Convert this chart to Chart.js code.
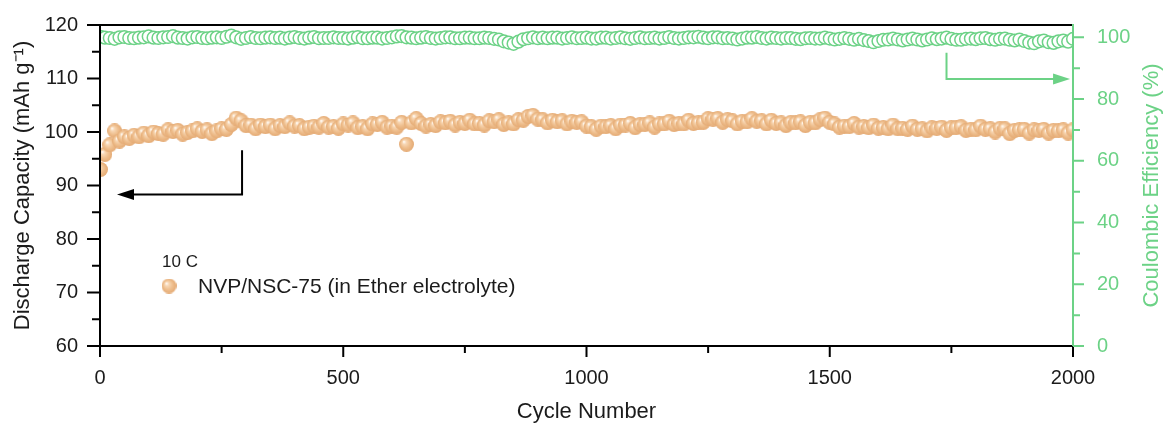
<!DOCTYPE html>
<html>
<head>
<meta charset="utf-8">
<script src="https://cdn.jsdelivr.net/npm/chart.js@4"></script>
<style>
  html, body { margin: 0; padding: 0; background: #fff; }
  #wrap { width: 1168px; height: 432px; }
</style>
</head>
<body>
<div id="wrap"><canvas id="cycleChart" width="1168" height="432"></canvas></div>
<script>
// discharge capacity (mAh g-1), one point every 10 cycles (first point = cycle 1)
const capacity = [
  93.0, 95.8, 97.6, 100.2, 98.3, 99.1, 98.8, 99.4, 99.1, 99.8,
  99.3, 100.0, 99.7, 99.6, 100.4, 100.1, 100.3, 99.6, 99.9, 100.2,
  100.6, 100.1, 100.4, 99.7, 100.2, 100.6, 100.5, 101.4, 102.6, 102.1,
  101.2, 101.3, 100.6, 101.3, 101.0, 101.3, 100.6, 101.2, 101.0, 101.7,
  101.1, 101.2, 100.6, 100.9, 101.1, 100.9, 101.6, 100.9, 101.0, 100.7,
  101.5, 101.3, 101.7, 100.8, 101.0, 100.6, 101.5, 101.4, 101.8, 100.9,
  101.1, 100.9, 101.8, 97.7, 101.7, 102.5, 101.6, 101.1, 101.4, 101.2,
  101.9, 101.7, 102.0, 101.3, 101.8, 101.6, 102.2, 101.5, 101.6, 101.3,
  102.1, 101.9, 102.3, 101.4, 101.7, 101.5, 102.3, 102.2, 102.9, 103.1,
  102.4, 102.3, 101.7, 102.2, 101.9, 102.1, 101.5, 102.0, 101.8, 101.9,
  101.1, 101.0, 100.5, 101.1, 101.0, 101.2, 100.6, 101.3, 101.3, 101.6,
  100.8, 101.4, 101.4, 101.7, 100.9, 101.5, 101.5, 102.0, 101.4, 101.6,
  101.5, 102.2, 101.6, 101.7, 101.8, 102.5, 102.4, 102.5, 101.8, 102.3,
  102.1, 101.5, 102.0, 101.9, 102.5, 102.0, 102.1, 101.5, 102.2, 101.6,
  101.7, 101.2, 101.8, 101.7, 101.9, 101.2, 101.8, 101.7, 102.3, 102.6,
  101.8, 101.5, 100.9, 101.1, 101.0, 101.6, 100.9, 101.0, 100.8, 101.3,
  100.7, 100.8, 100.6, 101.3, 100.6, 100.7, 100.5, 101.1, 100.5, 100.6,
  100.2, 100.8, 100.7, 100.9, 100.3, 100.8, 100.8, 101.0, 100.3, 100.5,
  100.4, 101.1, 100.5, 100.6, 100.0, 100.7, 100.6, 99.7, 100.3, 100.4,
  100.5, 99.8, 100.4, 100.3, 100.5, 99.8, 100.3, 100.2, 100.4, 99.8,
  100.4
];

// coulombic efficiency (%)
const efficiency = [
  100.2, 99.9, 99.8, 99.5, 100.0, 100.1, 99.8, 99.7, 99.9, 100.0,
  100.3, 99.9, 99.8, 100.0, 100.1, 100.4, 99.9, 99.8, 99.6, 100.0,
  100.1, 99.8, 99.7, 99.9, 100.0, 99.8, 100.2, 100.6, 100.0, 99.5,
  99.8, 100.1, 99.8, 99.7, 99.9, 100.0, 99.8, 99.9, 99.6, 99.9,
  100.1, 99.8, 99.6, 99.9, 100.1, 99.7, 99.8, 99.8, 100.0, 99.8,
  99.8, 99.6, 99.9, 100.1, 99.7, 99.7, 99.9, 99.9, 99.6, 99.8,
  100.0, 100.3, 100.4, 100.0, 99.9, 99.7, 99.9, 100.1, 99.8, 99.6,
  99.8, 100.0, 100.0, 99.7, 99.7, 99.9, 99.9, 99.7, 99.7, 99.9,
  99.8, 99.5, 99.3, 98.7, 98.3, 97.9, 98.6, 99.4, 99.7, 100.0,
  99.7, 99.9, 99.7, 99.9, 99.9, 99.6, 99.8, 100.0, 99.7, 99.8,
  99.9, 99.6, 99.6, 99.9, 99.9, 99.6, 99.8, 100.0, 99.7, 99.5,
  99.8, 100.0, 99.7, 99.8, 99.9, 99.6, 99.8, 100.1, 99.8, 99.6,
  99.8, 100.0, 100.0, 100.2, 99.9, 99.7, 100.0, 100.0, 99.7, 99.8,
  99.6, 99.3, 99.6, 99.9, 99.9, 100.1, 99.8, 99.6, 99.9, 99.8,
  99.6, 99.8, 99.8, 99.5, 99.4, 99.7, 99.8, 99.6, 99.6, 99.9,
  99.6, 99.3, 99.5, 99.8, 99.5, 99.2, 99.5, 99.1, 98.8, 98.4,
  98.8, 99.2, 99.3, 99.6, 99.3, 99.0, 99.3, 99.6, 99.3, 99.0,
  99.3, 99.7, 99.4, 99.6, 99.9, 99.5, 99.2, 99.2, 99.5, 99.6,
  99.4, 99.7, 99.8, 99.4, 99.2, 99.5, 99.6, 99.2, 99.0, 99.3,
  98.8, 98.3, 98.1, 98.7, 99.0, 98.4, 98.2, 98.7, 99.0, 98.6,
  99.5
];

const cycles = capacity.map((v, i) => (i === 0 ? 1 : i * 10));

const xTicks = [0, 500, 1000, 1500, 2000];
const xMinor = [250, 750, 1250, 1750];
const capTicks = [60, 70, 80, 90, 100, 110, 120];
const capMinor = [65, 75, 85, 95, 105, 115];
const ceTicks = [0, 20, 40, 60, 80, 100];
const ceMinor = [10, 30, 50, 70, 90];

const FONT = '"Liberation Sans", Arial, sans-serif';
const GREEN = 'rgb(108, 210, 134)';
const INK = '#1b1b1b';

// shaded orange ball used as the capacity marker
function makeBall(r) {
	const c = document.createElement('canvas');
	c.width = c.height = Math.ceil(r * 2);
	const g = c.getContext('2d');
	const grad = g.createRadialGradient(r - r * 0.35, r - r * 0.35, 0.4, r, r, r);
	grad.addColorStop(0, '#fffaf4');
	grad.addColorStop(0.22, '#f8d8b6');
	grad.addColorStop(0.6, '#efbf8e');
	grad.addColorStop(1, '#e4aa74');
	g.fillStyle = grad;
	g.beginPath();
	g.arc(r, r, r, 0, Math.PI * 2);
	g.fill();
	return c;
}
const ball = makeBall(7.5);

function arrowHead(ctx, tipX, tipY, dir) {
	// dir: -1 points left, 1 points right
	ctx.beginPath();
	ctx.moveTo(tipX, tipY);
	ctx.lineTo(tipX - dir * 17, tipY - 5.5);
	ctx.lineTo(tipX - dir * 17, tipY + 5.5);
	ctx.closePath();
	ctx.fill();
}

const frameAndMarks = {
	id: 'frameAndMarks',
	afterDatasetsDraw(chart) {
		const { ctx, chartArea: a, scales } = chart;
		const sx = scales.x, sy = scales.y, sy2 = scales.y2;
		ctx.save();

		/* frame */
		ctx.lineWidth = 2;
		ctx.strokeStyle = '#000';
		ctx.beginPath();
		ctx.moveTo(a.right, a.top);
		ctx.lineTo(a.left, a.top);
		ctx.lineTo(a.left, a.bottom);
		ctx.lineTo(a.right, a.bottom);
		ctx.stroke();

		/* ticks, left + bottom */
		ctx.beginPath();
		capTicks.forEach(v => { const p = sy.getPixelForValue(v); ctx.moveTo(a.left - 13, p); ctx.lineTo(a.left, p); });
		capMinor.forEach(v => { const p = sy.getPixelForValue(v); ctx.moveTo(a.left - 8, p); ctx.lineTo(a.left, p); });
		xTicks.forEach(v => { const p = sx.getPixelForValue(v); ctx.moveTo(p, a.bottom); ctx.lineTo(p, a.bottom + 11); });
		xMinor.forEach(v => { const p = sx.getPixelForValue(v); ctx.moveTo(p, a.bottom); ctx.lineTo(p, a.bottom + 7); });
		ctx.stroke();

		/* right axis in green */
		ctx.strokeStyle = GREEN;
		ctx.beginPath();
		ctx.moveTo(a.right, a.top - 1);
		ctx.lineTo(a.right, a.bottom);
		ceTicks.forEach(v => { const p = sy2.getPixelForValue(v); ctx.moveTo(a.right, p); ctx.lineTo(a.right + 11, p); });
		ceMinor.forEach(v => { const p = sy2.getPixelForValue(v); ctx.moveTo(a.right, p); ctx.lineTo(a.right + 7, p); });
		ctx.stroke();

		/* arrows */
		ctx.lineWidth = 2;
		ctx.strokeStyle = '#000';
		ctx.fillStyle = '#000';
		let ax = sx.getPixelForValue(292), ay0 = sy.getPixelForValue(96.6), ay1 = sy.getPixelForValue(88.3);
		let tip = sx.getPixelForValue(35);
		ctx.beginPath();
		ctx.moveTo(ax, ay0); ctx.lineTo(ax, ay1); ctx.lineTo(tip + 10, ay1);
		ctx.stroke();
		arrowHead(ctx, tip, ay1, -1);

		ctx.strokeStyle = GREEN;
		ctx.fillStyle = GREEN;
		ax = sx.getPixelForValue(1740); ay0 = sy2.getPixelForValue(95); ay1 = sy2.getPixelForValue(86.5);
		tip = sx.getPixelForValue(1994);
		ctx.beginPath();
		ctx.moveTo(ax, ay0); ctx.lineTo(ax, ay1); ctx.lineTo(tip - 10, ay1);
		ctx.stroke();
		arrowHead(ctx, tip, ay1, 1);

		/* legend */
		ctx.fillStyle = INK;
		ctx.textBaseline = 'middle';
		ctx.textAlign = 'left';
		ctx.font = '17px ' + FONT;
		ctx.fillText('10 C', a.left + 62, 262);
		ctx.drawImage(ball, a.left + 69 - 7.5, 286 - 7.5);
		ctx.font = '21px ' + FONT;
		ctx.fillText('NVP/NSC-75 (in Ether electrolyte)', a.left + 98, 287);

		/* right title (reads bottom to top) */
		ctx.fillStyle = GREEN;
		ctx.font = '22px ' + FONT;
		ctx.textAlign = 'center';
		ctx.translate(1152, (a.top + a.bottom) / 2);
		ctx.rotate(-Math.PI / 2);
		ctx.fillText('Coulombic Efficiency (%)', 0, 0);

		ctx.restore();
	}
};

document.addEventListener('DOMContentLoaded', () => {
	const capPoints = cycles.map((c, i) => ({ x: c, y: capacity[i] }));
	const cePoints = cycles.map((c, i) => ({ x: c, y: efficiency[i] }));

	const hiddenGrid = (len) => ({ display: true, drawOnChartArea: false, drawTicks: true, tickLength: len, color: 'rgba(0,0,0,0)' });

	new Chart(document.getElementById('cycleChart'), {
		type: 'scatter',
		data: {
			datasets: [
				{
					label: 'Coulombic Efficiency',
					data: cePoints,
					yAxisID: 'y2',
					pointStyle: 'circle',
					pointRadius: 6.3,
					pointBorderWidth: 1.5,
					pointBorderColor: GREEN,
					pointBackgroundColor: '#fff'
				},
				{
					label: 'NVP/NSC-75 (in Ether electrolyte)',
					data: capPoints,
					yAxisID: 'y',
					pointStyle: ball,
					pointRadius: 7.5
				}
			]
		},
		options: {
			responsive: false,
			devicePixelRatio: 1,
			animation: false,
			layout: { padding: { top: 21, left: 0, right: 0, bottom: 0 } },
			plugins: {
				legend: { display: false },
				tooltip: { enabled: false }
			},
			scales: {
				x: {
					type: 'linear',
					min: 0,
					max: 2000,
					afterBuildTicks: s => { s.ticks = xTicks.map(v => ({ value: v })); },
					afterFit: s => { s.height = 86; },
					grid: hiddenGrid(11),
					border: { display: false },
					ticks: { padding: 9, color: INK, font: { family: FONT, size: 20 }, callback: v => String(v) },
					title: { display: true, text: 'Cycle Number', color: INK, font: { family: FONT, size: 22 }, padding: { top: 0, bottom: 7 } }
				},
				y: {
					position: 'left',
					min: 60,
					max: 120,
					afterBuildTicks: s => { s.ticks = capTicks.map(v => ({ value: v })); },
					afterFit: s => { s.width = 100; },
					grid: hiddenGrid(13),
					border: { display: false },
					ticks: { padding: 9, color: INK, font: { family: FONT, size: 20 }, callback: v => String(v) },
					title: { display: true, text: 'Discharge Capacity (mAh g\u207B\u00B9)', color: INK, font: { family: FONT, size: 22 }, padding: { top: 10, bottom: 0 } }
				},
				y2: {
					position: 'right',
					min: 0,
					max: 104,
					afterBuildTicks: s => { s.ticks = ceTicks.map(v => ({ value: v })); },
					afterFit: s => { s.width = 95; },
					grid: hiddenGrid(11),
					border: { display: false },
					ticks: { padding: 13, color: GREEN, font: { family: FONT, size: 20 }, callback: v => String(v) }
				}
			}
		},
		plugins: [frameAndMarks]
	});
});
</script>
</body>
</html>
